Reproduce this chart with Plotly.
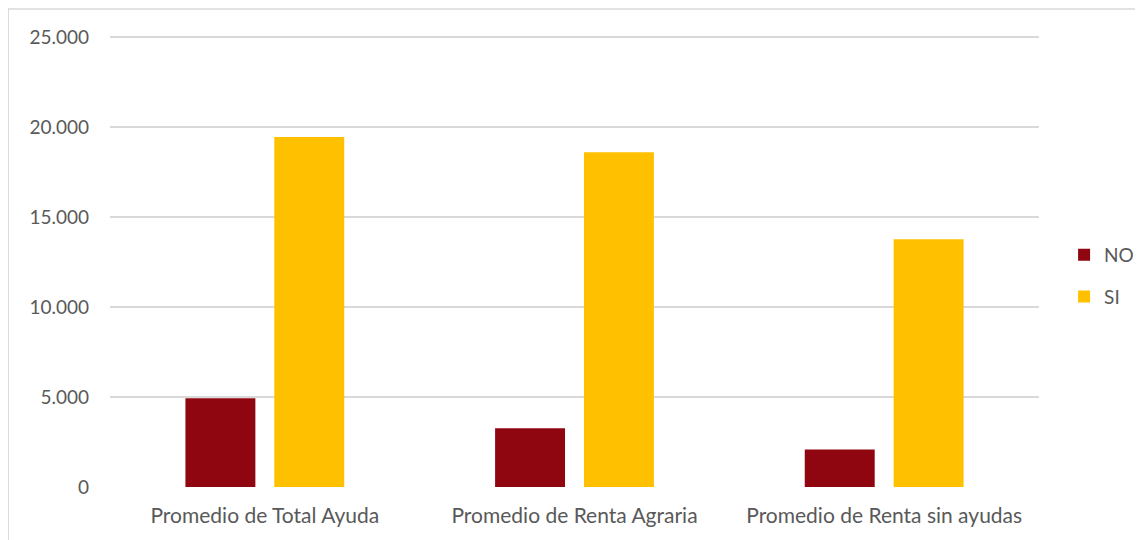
import plotly.graph_objects as go

categories = ["Promedio de Total Ayuda", "Promedio de Renta Agraria", "Promedio de Renta sin ayudas"]
no_values = [4930, 3260, 2090]
si_values = [19440, 18600, 13760]
y_ticks = [0, 5000, 10000, 15000, 20000, 25000]

fig = go.Figure()
fig.add_trace(go.Bar(name="NO", x=categories, y=no_values, marker_color="#8F0610",
                     marker_line_width=0, legendgroup="NO"))
fig.add_trace(go.Bar(name="SI", x=categories, y=si_values, marker_color="#FFC000",
                     marker_line_width=0, legendgroup="SI"))

# plot area: 931 px wide, 459 px tall (0..25500 at 18 px per 1000)
fig.update_layout(
    width=1143, height=540,
    margin=dict(l=102, r=110, t=20, b=61),
    paper_bgcolor="white", plot_bgcolor="white",
    separators=",.",
    barmode="group", bargap=0.426, bargroupgap=0.213,
    font=dict(family="Lato", size=19, color="#595959"),
    showlegend=True,
    legend=dict(x=1.027, y=0.46, xanchor="left", yanchor="middle",
                font=dict(size=19, color="#595959"), tracegroupgap=14,
                itemwidth=30),
    shapes=[dict(type="rect", xref="paper", yref="paper",
                 x0=-0.1096, x1=1.3, y0=-0.3, y1=1.0414,
                 line=dict(color="#D9D9D9", width=1.5), layer="below")],
)
fig.update_yaxes(range=[0, 25500], tickvals=y_ticks, tickformat=",d",
                 showgrid=True, gridcolor="#D9D9D9", gridwidth=1.5,
                 zeroline=False, showline=False, ticks="", ticklabelstandoff=20,
                 tickfont=dict(size=19))
fig.update_xaxes(showgrid=False, showline=False, ticks="", ticklabelstandoff=14,
                 tickfont=dict(size=21))

fig.write_html("out.html")
